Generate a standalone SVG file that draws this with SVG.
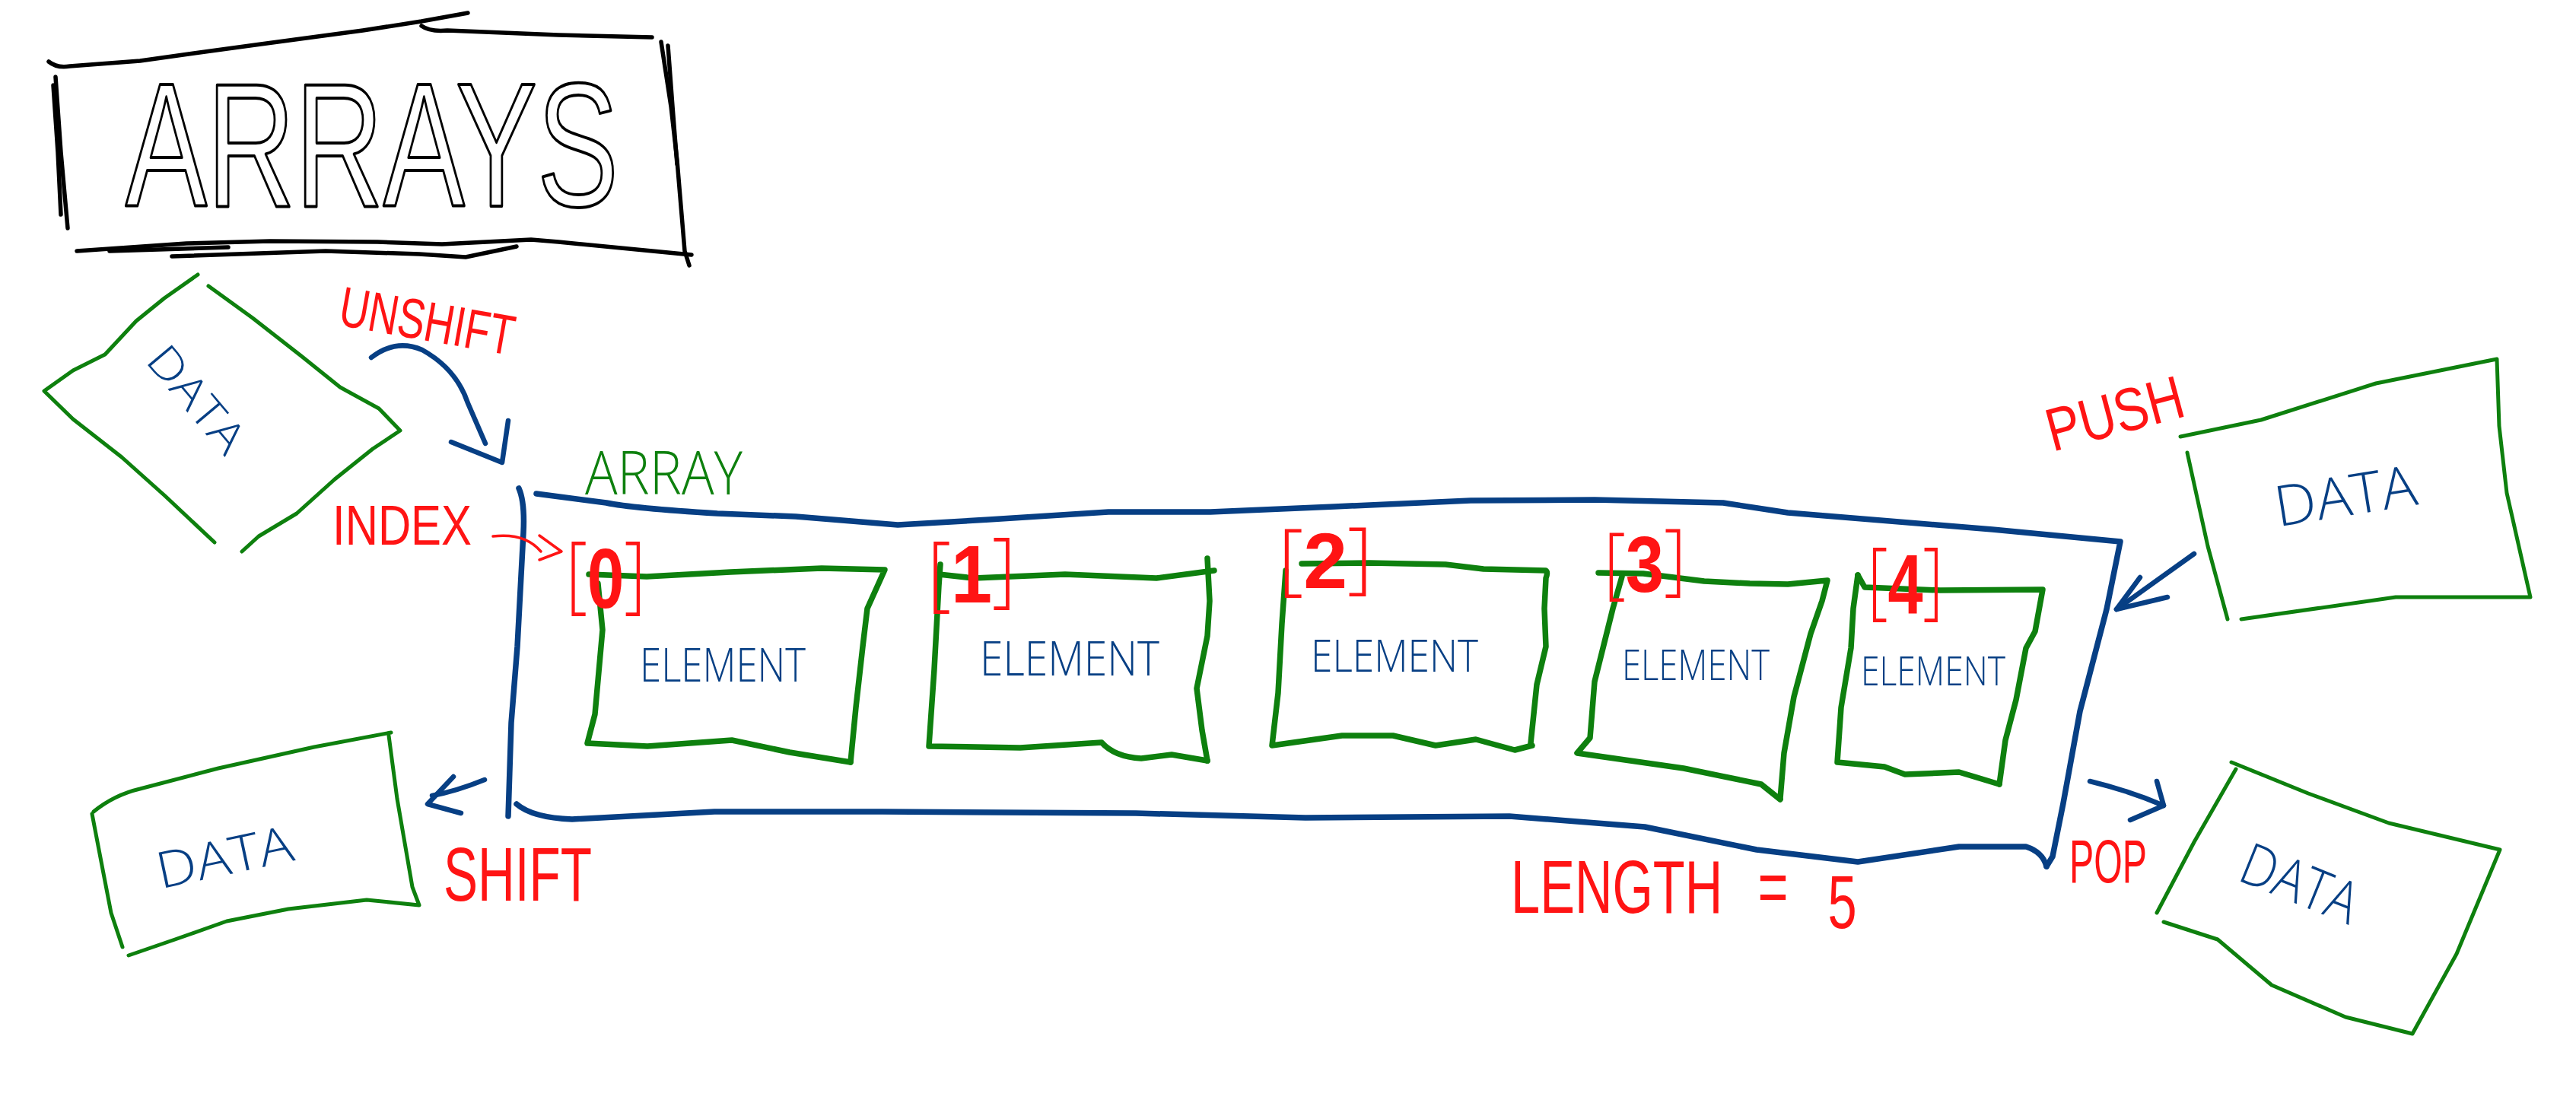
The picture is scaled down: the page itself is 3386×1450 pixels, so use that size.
<svg xmlns="http://www.w3.org/2000/svg" width="3386" height="1450" viewBox="0 0 3386 1450">
<style>
.ln{fill:none;stroke-linecap:round;stroke-linejoin:round}
.k{stroke:#000;stroke-width:5.5}
.g{stroke:#0e800e;stroke-width:7.5}
.gt{stroke:#0e800e;stroke-width:5}
.b{stroke:#073f84;stroke-width:7.5}
.ba{stroke:#073f84;stroke-width:6.5}
.r{stroke:#ff1414;stroke-width:3.5}
text{font-family:"Liberation Sans","DejaVu Sans",sans-serif}
.tb{fill:#073f84;font-family:"Open Sans","Liberation Sans",sans-serif;font-weight:300}
.tg{fill:#0e800e;font-family:"Open Sans","Liberation Sans",sans-serif;font-weight:300}
.tr{fill:#ff1414}
.br{fill:#ff1414;font-weight:300;font-family:"Open Sans","Liberation Sans",sans-serif}
.dg{fill:#ff1414;font-weight:bold;font-family:"Liberation Sans",sans-serif}
</style>
<rect width="3386" height="1450" fill="#fff"/>

<g id="title">
<path class="ln k" d="M64,81 Q75,90 92,87 L184,80 L255,70 L343,58 L477,40 L554,28 L615,17"/>
<path class="ln k" d="M554,34 Q565,42 588,40 L734,46 L857,49"/>
<path class="ln k" d="M73,101 L80,200 L89,300"/>
<path class="ln k" d="M70,112 L76,200 L80,282"/>
<path class="ln k" d="M869,55 L882,140 L890,211 L900,330 L906,349"/>
<path class="ln k" d="M878,60 L884,140 L890,216"/>
<path class="ln k" d="M101,330 L245,320 L355,317 L496,318 L581,321 L698,315 L734,318 L909,335"/>
<path class="ln k" d="M226,337 L428,330 L551,334 L612,338 L679,324"/>
<path class="ln k" d="M144,330 L300,325"/>
<text x="165" y="271" font-size="232" textLength="648" lengthAdjust="spacingAndGlyphs" fill="none" stroke="#000" stroke-width="4" stroke-linejoin="round">ARRAYS</text>
</g>

<g id="data-unshift">
<path class="ln gt" d="M260,361 L216,392 L179,422 L138,466 L96,487 L58,514 L96,551 L160,601 L217,652 L282,713"/>
<path class="ln gt" d="M274,376 L332,418 L396,468 L447,509 L498,537 L526,566 L490,590 L440,630 L390,675 L340,705 L318,725"/>
<text class="tb" transform="translate(258,525) rotate(50)" x="0" y="20" font-size="58" text-anchor="middle" textLength="165" lengthAdjust="spacingAndGlyphs">DATA</text>
</g>

<g id="data-shift">
<path class="ln gt" d="M123,1067 Q150,1045 184,1037 L287,1010 L413,982 L514,963"/>
<path class="ln gt" d="M511,967 L522,1050 L542,1166 L551,1190 L482,1183 L379,1195 L298,1211 L230,1235 L169,1256"/>
<path class="ln gt" d="M121,1070 L135,1143 L146,1200 L161,1245"/>
<text class="tb" transform="translate(295,1126) rotate(-12)" x="0" y="24" font-size="66" text-anchor="middle" textLength="182" lengthAdjust="spacingAndGlyphs">DATA</text>
</g>

<g id="data-push">
<path class="ln gt" d="M2866,574 L2972,552 L3123,504 L3282,472 L3285,560 L3295,648 L3326,785 L3149,785 L2946,814"/>
<path class="ln gt" d="M2875,595 L2902,718 L2928,814"/>
<text class="tb" transform="translate(3083,652) rotate(-9)" x="0" y="26" font-size="74" text-anchor="middle" textLength="188" lengthAdjust="spacingAndGlyphs">DATA</text>
</g>

<g id="data-pop">
<path class="ln gt" d="M2933,1002 L3034,1043 L3140,1082 L3286,1117 L3229,1254 L3171,1359 L3083,1337 L2986,1295 L2915,1235 L2844,1212"/>
<path class="ln gt" d="M2939,1011 L2884,1107 L2835,1200"/>
<text class="tb" transform="translate(3023,1162) rotate(22)" x="0" y="26" font-size="76" text-anchor="middle" textLength="160" lengthAdjust="spacingAndGlyphs">DATA</text>
</g>

<g id="array">
<path class="ln b" d="M682,642 Q690,660 688,700 L680,850 L672,950 L668,1073"/>
<path class="ln b" d="M705,649 L797,661 Q830,668 943,675 L1046,679 L1180,690 L1300,683 L1457,673 L1591,673 L1754,666 L1933,658 L2096,657 L2265,661 L2350,674 L2619,696 L2787,712 L2769,801 L2734,935 L2712,1056 L2698,1126 L2690,1139"/>
<path class="ln b" d="M679,1057 Q700,1075 752,1077 L939,1067 L1160,1067 L1493,1069 L1716,1075 L1984,1073 L2162,1087 L2309,1117 L2442,1133 L2575,1113 L2663,1113 Q2685,1120 2690,1139"/>
<text class="tg" x="769" y="650" font-size="80" textLength="207" lengthAdjust="spacingAndGlyphs">ARRAY</text>
<text class="tr" transform="translate(1986,1200) scale(0.7,1)" font-size="98"><tspan>LENGTH</tspan> <tspan dx="39">=</tspan> <tspan dx="47" dy="20">5</tspan></text>
</g>

<g id="element-0">
<path class="ln g" d="M774,755 L850,758 L960,752 L1080,747 L1163,749 L1140,800 L1134,850 L1125,930 L1118,1002"/>
<path class="ln g" d="M786,767 L792,828 L782,939 L772,977 L851,981 L962,973 L1038,989 L1118,1002"/>
<text class="tb" x="841" y="896" font-size="60" textLength="218" lengthAdjust="spacingAndGlyphs">ELEMENT</text>
<text transform="translate(744,0) scale(0.78,1)" font-size="112"><tspan class="br" y="792">[</tspan><tspan class="dg" y="799">0</tspan><tspan class="br" y="792">]</tspan></text>
</g>

<g id="element-1">
<path class="ln g" d="M1236,742 L1234,770 L1228,880 L1221,981 L1341,983 L1448,976 Q1465,995 1500,997 L1540,992 L1587,1000"/>
<path class="ln g" d="M1234,755 L1280,760 L1400,755 L1520,760 L1596,750"/>
<path class="ln g" d="M1587,734 L1590,790 L1587,836 L1573,905 L1580,960 L1587,1000"/>
<text class="tb" x="1288" y="888" font-size="62" textLength="236" lengthAdjust="spacingAndGlyphs">ELEMENT</text>
<text transform="translate(1219,0) scale(0.9,1)" font-size="108"><tspan class="br" y="790">[</tspan><tspan class="dg" y="792">1</tspan><tspan class="br" y="785">]</tspan></text>
</g>

<g id="element-2">
<path class="ln g" d="M1711,741 L1800,740 L1900,742 L1950,748 L2032,750 Q2035,752 2032,760 L2030,800 L2032,850 L2020,900 L2012,977"/>
<path class="ln g" d="M1690,750 L1685,820 L1680,911 L1672,980 L1764,967 L1831,967 L1887,980 L1940,972 L1991,986 L2014,980"/>
<text class="tb" x="1723" y="883" font-size="58" textLength="220" lengthAdjust="spacingAndGlyphs">ELEMENT</text>
<text transform="translate(1680,0)" font-size="104"><tspan class="br" y="770">[</tspan><tspan class="dg" y="773">2</tspan><tspan class="br" y="768">]</tspan></text>
</g>

<g id="element-3">
<path class="ln g" d="M2101,753 L2160,754 L2240,764 L2300,767 L2350,768 L2402,763 L2395,790 L2380,833 L2358,916 L2345,990 L2340,1050"/>
<path class="ln g" d="M2132,758 L2120,800 L2096,896 L2090,970 L2073,990 L2213,1010 L2315,1031 L2340,1051"/>
<text class="tb" x="2132" y="894" font-size="56" textLength="194" lengthAdjust="spacingAndGlyphs">ELEMENT</text>
<text transform="translate(2108,0) scale(0.87,1)" font-size="104"><tspan class="br" y="775">[</tspan><tspan class="dg" y="778">3</tspan><tspan class="br" y="770">]</tspan></text>
</g>

<g id="element-4">
<path class="ln g" d="M2442,756 L2451,772 L2550,776 L2685,775 L2675,830 L2663,852 L2650,920 L2636,973 L2628,1031"/>
<path class="ln g" d="M2442,756 L2436,800 L2433,852 L2420,930 L2415,1002 L2477,1008 L2504,1018 L2575,1015 L2628,1031"/>
<text class="tb" x="2446" y="901" font-size="54" textLength="190" lengthAdjust="spacingAndGlyphs">ELEMENT</text>
<text transform="translate(2455,0) scale(0.74,1)" font-size="112"><tspan class="br" y="800">[</tspan><tspan class="dg" y="807" font-weight="normal">4</tspan><tspan class="br" y="800">]</tspan></text>
</g>

<g id="connectors">
<path class="ln ba" d="M488,470 Q520,445 555,460 Q600,485 615,530 L638,583"/>
<path class="ln ba" d="M593,581 L660,608 L668,553"/>
<path class="ln ba" d="M637,1025 Q600,1040 568,1046"/>
<path class="ln ba" d="M596,1021 L562,1057 L606,1069"/>
<path class="ln ba" d="M2884,728 L2782,801"/>
<path class="ln ba" d="M2813,759 L2782,801 L2849,785"/>
<path class="ln ba" d="M2747,1027 Q2800,1040 2844,1059"/>
<path class="ln ba" d="M2835,1027 L2844,1059 L2800,1078"/>
<path class="ln r" d="M648,705 Q690,700 711,725"/>
<path class="ln r" d="M709,704 L738,725 L709,736"/>
</g>

<g id="labels">
<text class="tr" transform="translate(443,427) rotate(10)" font-size="74" textLength="232" lengthAdjust="spacingAndGlyphs"><tspan font-weight="300">UN</tspan><tspan>SHIFT</tspan></text>
<text class="tr" x="437" y="716" font-size="74" textLength="183" lengthAdjust="spacingAndGlyphs" font-weight="300">INDEX</text>
<text class="tr" x="583" y="1184" font-size="100" textLength="195" lengthAdjust="spacingAndGlyphs">SHIFT</text>
<text class="tr" transform="translate(2698,594) rotate(-15)" font-size="80" textLength="184" lengthAdjust="spacingAndGlyphs">PUSH</text>
<text class="tr" x="2720" y="1160" font-size="80" textLength="102" lengthAdjust="spacingAndGlyphs">POP</text>
</g>
</svg>
